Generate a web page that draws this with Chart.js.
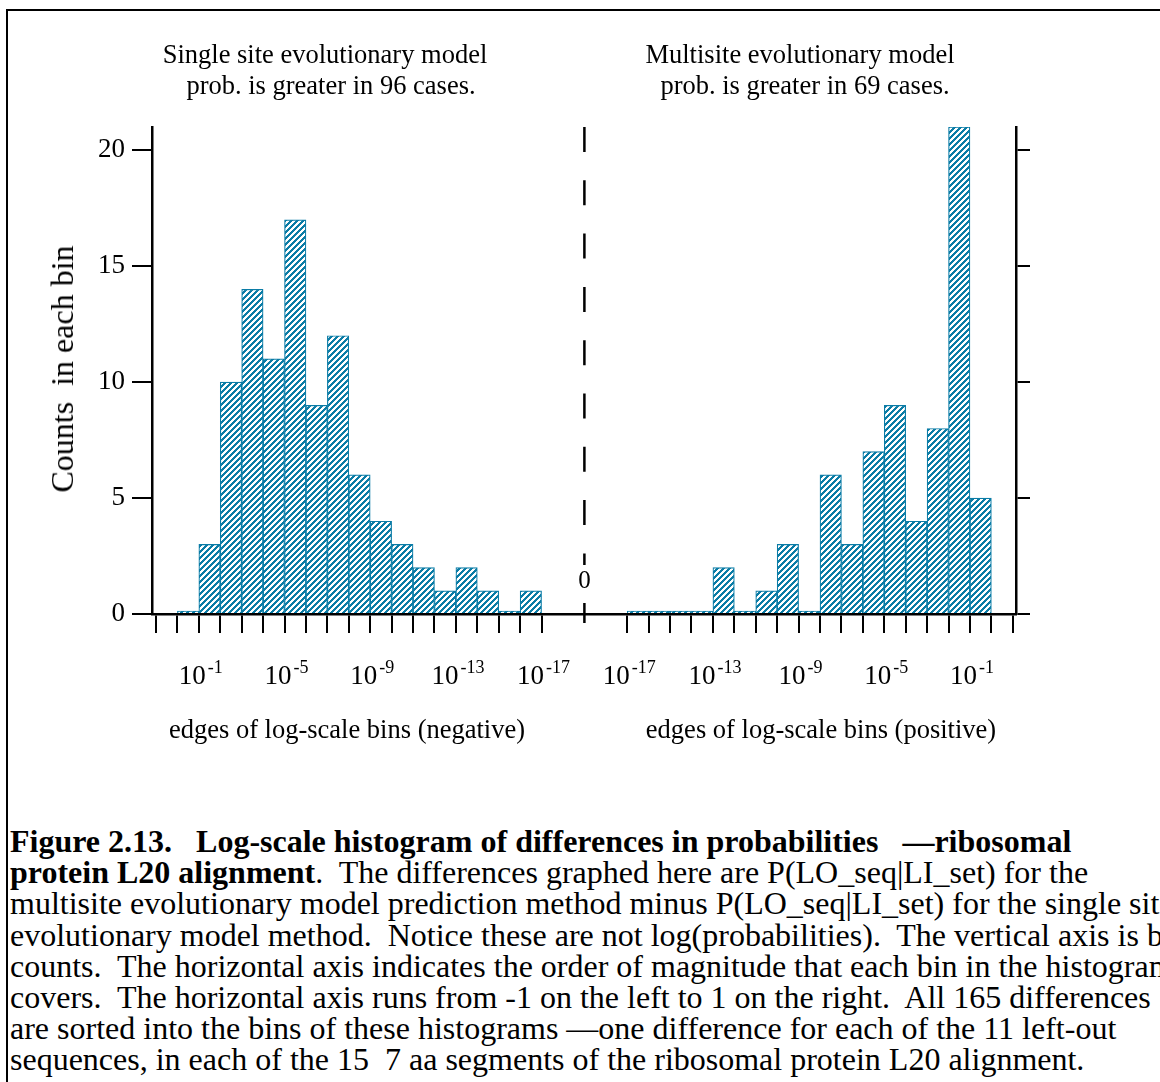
<!DOCTYPE html>
<html>
<head>
<meta charset="utf-8">
<script src="https://cdn.jsdelivr.net/npm/chart.js@4.4.1/dist/chart.umd.min.js"></script>
<style>
  html, body { margin: 0; padding: 0; background: #fff; overflow: hidden; }
  body { width: 1160px; height: 1082px; position: relative; color: #000;
         font-family: "Liberation Serif", "Times New Roman", serif; }
  #frame { position: absolute; left: 6px; top: 9px; width: 1300px; height: 1300px;
           border-top: 2.5px solid #000; border-left: 2.5px solid #000; box-sizing: border-box; }
  #wrap { position: absolute; left: 0; top: 0; width: 1160px; height: 790px; }
  .t { position: absolute; white-space: pre; font-size: 26.5px; line-height: 26.5px;
       transform: translateX(-50%); }
  #ytitle { position: absolute; white-space: pre; font-size: 32px; line-height: 32px;
            left: 62px; top: 369px; transform: translate(-50%, -50%) rotate(-90deg); }
  #caption { position: absolute; left: 10px; top: 826px; font-size: 32px; line-height: 31.2px;
             white-space: pre; }
</style>
</head>
<body>
<div id="frame"></div>
<div id="wrap"><canvas id="chart" width="1160" height="790"></canvas></div>

<div class="t" style="left:325px;top:41px">Single site evolutionary model</div>
<div class="t" style="left:331px;top:72px">prob. is greater in 96 cases.</div>
<div class="t" style="left:800px;top:41px">Multisite evolutionary model</div>
<div class="t" style="left:805px;top:72px">prob. is greater in 69 cases.</div>
<div id="ytitle">Counts  in each bin</div>
<div class="t" style="left:347px;top:716px">edges of log-scale bins (negative)</div>
<div class="t" style="left:821px;top:716px">edges of log-scale bins (positive)</div>

<div id="caption"><b>Figure 2.13.   Log-scale histogram of differences in probabilities   —ribosomal</b>
<b>protein L20 alignment</b>.  The differences graphed here are P(LO_seq|LI_set) for the
multisite evolutionary model prediction method minus P(LO_seq|LI_set) for the single site
evolutionary model method.  Notice these are not log(probabilities).  The vertical axis is bin
counts.  The horizontal axis indicates the order of magnitude that each bin in the histogram
covers.  The horizontal axis runs from -1 on the left to 1 on the right.  All 165 differences
are sorted into the bins of these histograms —one difference for each of the 11 left-out
sequences, in each of the 15  7 aa segments of the ribosomal protein L20 alignment.</div>

<script>
// Counts per decade bin. Left histogram: single-site model more probable
// (bins run from 10^0 down to 10^-17); right: multisite model more probable
// (bins run from 10^-17 up to 10^0).
const singleSiteCounts = [0, 3, 10, 14, 11, 17, 9, 12, 6, 4, 3, 2, 1, 2, 1, 0, 1];
const multisiteCounts  = [0, 0, 0, 0, 2, 0, 1, 3, 0, 6, 3, 7, 9, 4, 8, 21, 5];

// Exponents printed under the bin edges.
const negativeEdgeLabels = [-1, -5, -9, -13, -17];
const positiveEdgeLabels = [-17, -13, -9, -5, -1];

// Vertical axis ticks.
const countTicks = [0, 5, 10, 15, 20];
const countMax = 21;

// Axis layout in bin units: left edges 0..18 (exponent 1 .. -17),
// divider at 20, right edges 22..40 (exponent -17 .. 1).
const LEFT_FIRST_BIN = 1;
const RIGHT_FIRST_BIN = 22;
const DIVIDER = 20;
const leftEdges = Array.from({ length: 19 }, (_, i) => i);
const rightEdges = Array.from({ length: 19 }, (_, i) => 22 + i);
const leftEdgeFor = e => 1 - e;     // position of 10^e on the negative side
const rightEdgeFor = e => 39 + e;   // position of 10^e on the positive side

const BLUE = '#0b7ca6';
const BLUE_RGB = [11, 124, 166];
const FONT = '"Liberation Serif", "Times New Roman", serif';

// 6px tile of crisp "/" stripes, half blue, half white
function hatchPattern() {
  const s = 6;
  const c = document.createElement('canvas');
  c.width = s; c.height = s;
  const g = c.getContext('2d');
  const img = g.createImageData(s, s);
  for (let yy = 0; yy < s; yy++) {
    for (let xx = 0; xx < s; xx++) {
      const k = (yy * s + xx) * 4;
      const on = ((xx + yy) % s) < 3;
      img.data[k]     = on ? BLUE_RGB[0] : 255;
      img.data[k + 1] = on ? BLUE_RGB[1] : 255;
      img.data[k + 2] = on ? BLUE_RGB[2] : 255;
      img.data[k + 3] = 255;
    }
  }
  g.putImageData(img, 0, 0);
  return g.createPattern(c, 'repeat');
}

const barStyle = {
  backgroundColor: hatchPattern(),
  borderColor: BLUE,
  borderWidth: 1.2,
  borderSkipped: 'start',
  minBarLength: 3,
  barPercentage: 1,
  categoryPercentage: 1,
  grouped: false
};

const edgeLabels = {
  id: 'edgeLabels',
  afterDraw(chart) {
    const { ctx } = chart;
    const x = chart.scales.x, y = chart.scales.y;
    const base = y.getPixelForValue(0);
    ctx.save();
    ctx.fillStyle = '#000';
    ctx.textBaseline = 'alphabetic';
    const put = (pos, e) => {
      const px = x.getPixelForValue(pos);
      ctx.font = '27px ' + FONT;
      const w1 = ctx.measureText('10').width + 2;
      ctx.font = '18px ' + FONT;
      const exp = '-' + Math.abs(e);
      const w2 = ctx.measureText(exp).width;
      const start = px + 2 - (w1 + w2) / 2;
      ctx.textAlign = 'left';
      ctx.font = '27px ' + FONT;
      ctx.fillText('10', start, base + 70);
      ctx.font = '18px ' + FONT;
      ctx.fillText(exp, start + w1, base + 59);
    };
    negativeEdgeLabels.forEach(e => put(leftEdgeFor(e), e));
    positiveEdgeLabels.forEach(e => put(rightEdgeFor(e), e));

    // dashed divider between the two histograms, with its zero mark
    const cx = x.getPixelForValue(DIVIDER);
    ctx.strokeStyle = '#000';
    ctx.lineWidth = 2.5;
    ctx.setLineDash([25, 28.3]);
    ctx.beginPath();
    ctx.moveTo(cx, y.getPixelForValue(countMax));
    ctx.lineTo(cx, base - 49);
    ctx.stroke();
    ctx.setLineDash([]);
    ctx.beginPath();
    ctx.moveTo(cx, base - 11);
    ctx.lineTo(cx, base + 9);
    ctx.stroke();
    ctx.font = '25px ' + FONT;
    ctx.textAlign = 'center';
    ctx.fillText('0', cx, base - 26);
    ctx.restore();
  }
};

const axisGrid = len => ({ drawOnChartArea: false, drawTicks: true, tickLength: len,
                           color: '#000', lineWidth: 2, offset: false });

new Chart(document.getElementById('chart'), {
  type: 'bar',
  data: {
    datasets: [
      Object.assign({ label: 'Single site',
        data: singleSiteCounts.map((v, i) => ({ x: LEFT_FIRST_BIN + i + 0.5, y: v })) }, barStyle),
      Object.assign({ label: 'Multisite',
        data: multisiteCounts.map((v, i) => ({ x: RIGHT_FIRST_BIN + i + 0.5, y: v })) }, barStyle)
    ]
  },
  options: {
    responsive: false,
    animation: false,
    devicePixelRatio: 1,
    layout: { padding: { top: 127, left: 0, right: 0, bottom: 0 } },
    plugins: { legend: { display: false }, tooltip: { enabled: false }, title: { display: false } },
    scales: {
      x: {
        type: 'linear', min: -0.187, max: 40.15, offset: false,
        afterBuildTicks: s => { s.ticks = leftEdges.concat(rightEdges).map(v => ({ value: v })); },
        ticks: { display: false },
        grid: axisGrid(19),
        border: { display: true, color: '#000', width: 2.5 },
        afterFit: s => { s.height = 176; }
      },
      y: {
        position: 'left', min: 0, max: countMax,
        afterBuildTicks: s => { s.ticks = countTicks.map(v => ({ value: v })); },
        ticks: { color: '#000', padding: 7, font: { family: FONT, size: 27 } },
        grid: axisGrid(20),
        border: { display: true, color: '#000', width: 2.5 },
        afterFit: s => { s.width = 152; }
      },
      y2: {
        position: 'right', min: 0, max: countMax,
        afterBuildTicks: s => { s.ticks = countTicks.map(v => ({ value: v })); },
        ticks: { display: false },
        grid: axisGrid(14),
        border: { display: true, color: '#000', width: 2.5 },
        afterFit: s => { s.width = 144; }
      }
    }
  },
  plugins: [edgeLabels]
});
</script>
</body>
</html>
